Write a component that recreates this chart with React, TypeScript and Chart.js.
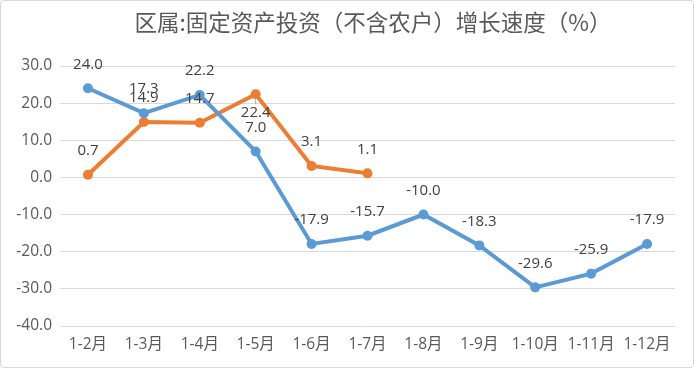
import React, { useEffect, useRef } from "react";
import { Chart, registerables } from "chart.js";

Chart.register(...registerables);

const categories = ["1-2月", "1-3月", "1-4月", "1-5月", "1-6月", "1-7月", "1-8月", "1-9月", "1-10月", "1-11月", "1-12月"];
const blueValues = [24.0, 17.3, 22.2, 7.0, -17.9, -15.7, -10.0, -18.3, -29.6, -25.9, -17.9];
const orangeValues = [0.7, 14.9, 14.7, 22.4, 3.1, 1.1];
const titleText = "区属:固定资产投资（不含农户）增长速度（%）";
const yMin = -40;
const yMax = 30;
const yStep = 10;

const FONT = "'Open Sans', 'Noto Sans CJK SC', sans-serif";

const labelPlugin = {
  id: "valueLabels",
  afterDatasetsDraw(chart: any) {
    const ctx = chart.ctx;
    ctx.save();
    ctx.font = `15px ${FONT}`;
    ctx.fillStyle = "#404040";
    ctx.textAlign = "center";
    ctx.textBaseline = "middle";
    chart.data.datasets.forEach((ds: any, di: number) => {
      const meta = chart.getDatasetMeta(di);
      meta.data.forEach((pt: any, i: number) => {
        const v = ds.data[i];
        if (v === null || v === undefined) return;
        const below = di === 1 && i === 3;
        const y = below ? pt.y + 19 : pt.y - 24;
        if (below) {
          ctx.strokeStyle = "#a6a6a6";
          ctx.lineWidth = 1;
          ctx.beginPath();
          ctx.moveTo(pt.x, pt.y + 3);
          ctx.lineTo(pt.x, pt.y + 10);
          ctx.stroke();
        }
        ctx.fillText(Number(v).toFixed(1), pt.x, y);
      });
    });
    ctx.restore();
  },
};

const titlePlugin = {
  id: "customTitle",
  afterDraw(chart: any) {
    const ctx = chart.ctx;
    ctx.save();
    ctx.font = `22.5px 'Noto Sans CJK SC', sans-serif`;
    ctx.fillStyle = "#595959";
    ctx.textAlign = "center";
    ctx.textBaseline = "middle";
    ctx.fillText(titleText, 373, 22);
    ctx.restore();
  },
};

export default function App() {
  const ref = useRef<HTMLCanvasElement>(null);
  useEffect(() => {
    document.body.style.margin = "0";
    const chart = new Chart(ref.current!, {
      type: "line",
      data: {
        labels: categories,
        datasets: [
          {
            label: "blue",
            data: blueValues,
            borderColor: "#5B9BD5",
            backgroundColor: "#5B9BD5",
            borderWidth: 4,
            pointRadius: 5,
            pointHoverRadius: 5,
            pointBorderWidth: 0,
            tension: 0,
          },
          {
            label: "orange",
            data: orangeValues,
            borderColor: "#ED7D31",
            backgroundColor: "#ED7D31",
            borderWidth: 4,
            pointRadius: 5,
            pointHoverRadius: 5,
            pointBorderWidth: 0,
            tension: 0,
          },
        ],
      },
      options: {
        animation: false,
        responsive: false,
        layout: { padding: { top: 66, right: 19, left: 0, bottom: 0 } },
        plugins: {
          legend: { display: false },
          title: { display: false },
          tooltip: { enabled: false },
        },
        scales: {
          x: {
            offset: true,
            grid: { display: false, drawTicks: false },
            border: { display: false },
            ticks: { color: "#595959", font: { size: 15.5, family: FONT }, padding: 9, maxRotation: 0, autoSkip: false },
            afterFit: (s: any) => { s.height = 42; },
          },
          y: {
            min: yMin,
            max: yMax,
            grid: { color: "#d9d9d9", lineWidth: 1, drawTicks: false },
            border: { display: false },
            ticks: {
              stepSize: yStep,
              color: "#595959",
              font: { size: 15.5, family: FONT },
              padding: 8,
              callback: (v: any) => Number(v).toFixed(1),
            },
            afterFit: (s: any) => { s.width = 60; },
          },
        },
      },
      plugins: [labelPlugin, titlePlugin],
    });
    return () => chart.destroy();
  }, []);
  return (
    <div style={{ width: 694, height: 368, boxSizing: "border-box", position: "relative", background: "#fff" }}>
      <canvas ref={ref} width={694} height={368} style={{ display: "block" }} />
      <div style={{ position: "absolute", left: 0, top: 0, width: 694, height: 368, boxSizing: "border-box", border: "1px solid #d9d9d9", borderRadius: 4, pointerEvents: "none" }} />
    </div>
  );
}
